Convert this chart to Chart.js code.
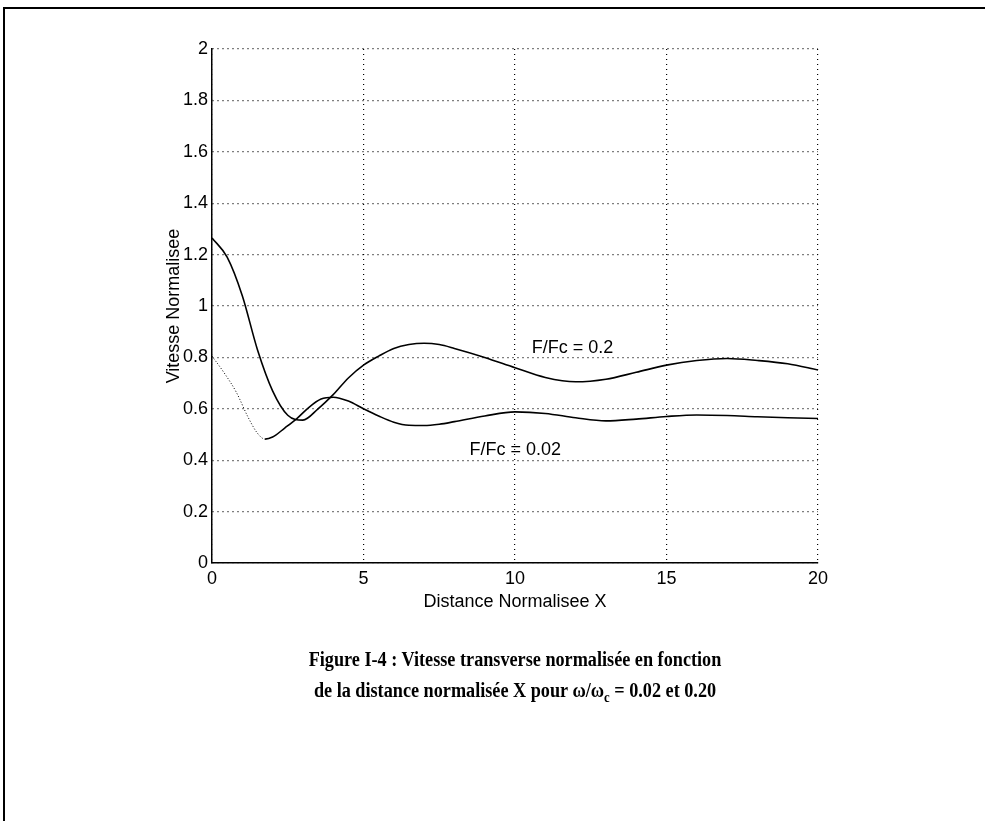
<!DOCTYPE html>
<html>
<head>
<meta charset="utf-8">
<script src="https://cdn.jsdelivr.net/npm/chart.js@4"></script>
<style>
  html, body { margin: 0; padding: 0; background: #fff; }
  #wrap { position: relative; width: 985px; height: 821px; overflow: hidden; }
  #frame { position: absolute; left: 3px; top: 7px; width: 990px; height: 830px;
           border-top: 2px solid #000; border-left: 2px solid #000; }
  canvas { position: absolute; left: 0; top: 0; }
  .caption { position: absolute; left: 0; width: 1030px; text-align: center;
             font-family: "Liberation Serif", "Times New Roman", serif; font-weight: bold;
             font-size: 20px; line-height: 23px; color: #000;
             transform: scaleX(0.91); transform-origin: 515px 0; }
</style>
</head>
<body>
<div id="wrap">
  <div id="frame"></div>
  <canvas id="chart" width="985" height="821"></canvas>
  <div class="caption" style="top:648px">Figure I-4 : Vitesse transverse normalisée en fonction</div>
  <div class="caption" style="top:679px">de la distance normalisée X pour ω/ω<sub style="font-size:14px">c</sub> = 0.02 et 0.20</div>
</div>
<script>
// F/Fc = 0.2 (upper curve)
const xHigh = [0, 0.5, 1, 1.5, 2, 2.5, 3, 3.5, 4, 4.5, 5, 5.5, 6, 6.5, 7, 7.5, 8, 9, 10, 11, 12, 13, 14, 15, 16, 17, 18, 19, 20];
const yHigh = [1.265, 1.19, 1.04, 0.83, 0.67, 0.575, 0.556, 0.6, 0.655, 0.72, 0.77, 0.805, 0.835, 0.85, 0.855, 0.85, 0.835, 0.8, 0.76, 0.722, 0.705, 0.715, 0.742, 0.77, 0.788, 0.796, 0.788, 0.775, 0.751];

// F/Fc = 0.02 (lower curve)
const xLow = [0, 0.4, 0.8, 1.2, 1.5, 1.75, 2, 2.4, 2.8, 3.2, 3.6, 4, 4.5, 5, 5.5, 6, 6.5, 7, 7.5, 8, 9, 10, 11, 12, 13, 14, 15, 16, 17, 18, 19, 20];
const yLow = [0.805, 0.74, 0.665, 0.565, 0.505, 0.482, 0.49, 0.525, 0.562, 0.606, 0.638, 0.645, 0.63, 0.6, 0.572, 0.548, 0.536, 0.535, 0.54, 0.55, 0.572, 0.588, 0.582, 0.565, 0.553, 0.56, 0.57, 0.576, 0.574, 0.569, 0.565, 0.562];

// tick labels
const xTicks = [0, 5, 10, 15, 20];
const yTicks = [0, 0.2, 0.4, 0.6, 0.8, 1, 1.2, 1.4, 1.6, 1.8, 2];

// curve labels
const labelText = ['F/Fc = 0.2', 'F/Fc = 0.02'];
const labelX = [10.55, 8.5];
const labelY = [0.835, 0.44];

const axisFont = '"Liberation Sans Narrow", "Liberation Sans", Arial, sans-serif';

function toPoints(xs, ys) {
    return xs.map((x, i) => ({ x: x, y: ys[i] }));
}

const curveLabels = {
    id: 'curveLabels',
    afterDatasetsDraw(chart) {
        const { ctx, scales } = chart;
        ctx.save();
        ctx.font = '18px ' + axisFont;
        ctx.fillStyle = '#000';
        ctx.textBaseline = 'middle';
        ctx.textAlign = 'left';
        labelText.forEach((t, i) => {
            ctx.fillText(t, scales.x.getPixelForValue(labelX[i]), scales.y.getPixelForValue(labelY[i]));
        });
        ctx.restore();
    }
};

const ctx = document.getElementById('chart').getContext('2d');
new Chart(ctx, {
    type: 'line',
    data: {
        datasets: [{
            label: 'F/Fc = 0.2',
            data: toPoints(xHigh, yHigh),
            borderColor: '#000',
            borderWidth: 1.6,
            pointRadius: 0,
            cubicInterpolationMode: 'monotone'
        }, {
            label: 'F/Fc = 0.02',
            data: toPoints(xLow, yLow),
            borderColor: '#000',
            borderWidth: 1.6,
            pointRadius: 0,
            cubicInterpolationMode: 'monotone',
            segment: {
                borderDash: c => c.p0.parsed.x < 1.7 ? [1, 2] : undefined,
                borderWidth: c => c.p0.parsed.x < 1.7 ? 1 : 1.6
            }
        }]
    },
    options: {
        responsive: false,
        animation: false,
        layout: { padding: { left: 163, top: 49, right: 167, bottom: 208 } },
        plugins: {
            legend: { display: false },
            tooltip: { enabled: false }
        },
        scales: {
            x: {
                type: 'linear',
                min: 0,
                max: 20,
                afterBuildTicks: s => { s.ticks = xTicks.map(v => ({ value: v })); },
                afterFit: s => { s.height = 50; },
                border: { display: true, color: '#000', width: 1.5, dash: [1, 4] },
                grid: { color: '#000', lineWidth: 1.2, drawTicks: false },
                ticks: { color: '#000', padding: 5, font: { family: axisFont, size: 18 }, maxRotation: 0,
                         callback: v => String(v) },
                title: { display: true, text: 'Distance Normalisee X', color: '#000',
                         font: { family: axisFont, size: 18 }, padding: { top: 0, bottom: 0 } }
            },
            y: {
                min: 0,
                max: 2,
                afterBuildTicks: s => { s.ticks = yTicks.map(v => ({ value: v })); },
                afterFit: s => { s.width = 212 - 163; },
                border: { display: true, color: '#000', width: 1.5, dash: [1, 4] },
                grid: { color: '#000', lineWidth: 1.2, drawTicks: false },
                ticks: { color: '#000', padding: 4, font: { family: axisFont, size: 18 },
                         callback: v => String(+v.toFixed(1)) },
                title: { display: true, text: 'Vitesse Normalisee', color: '#000',
                         font: { family: axisFont, size: 18 }, padding: { top: 0, bottom: 0 } }
            }
        }
    },
    plugins: [curveLabels]
});
</script>
</body>
</html>
